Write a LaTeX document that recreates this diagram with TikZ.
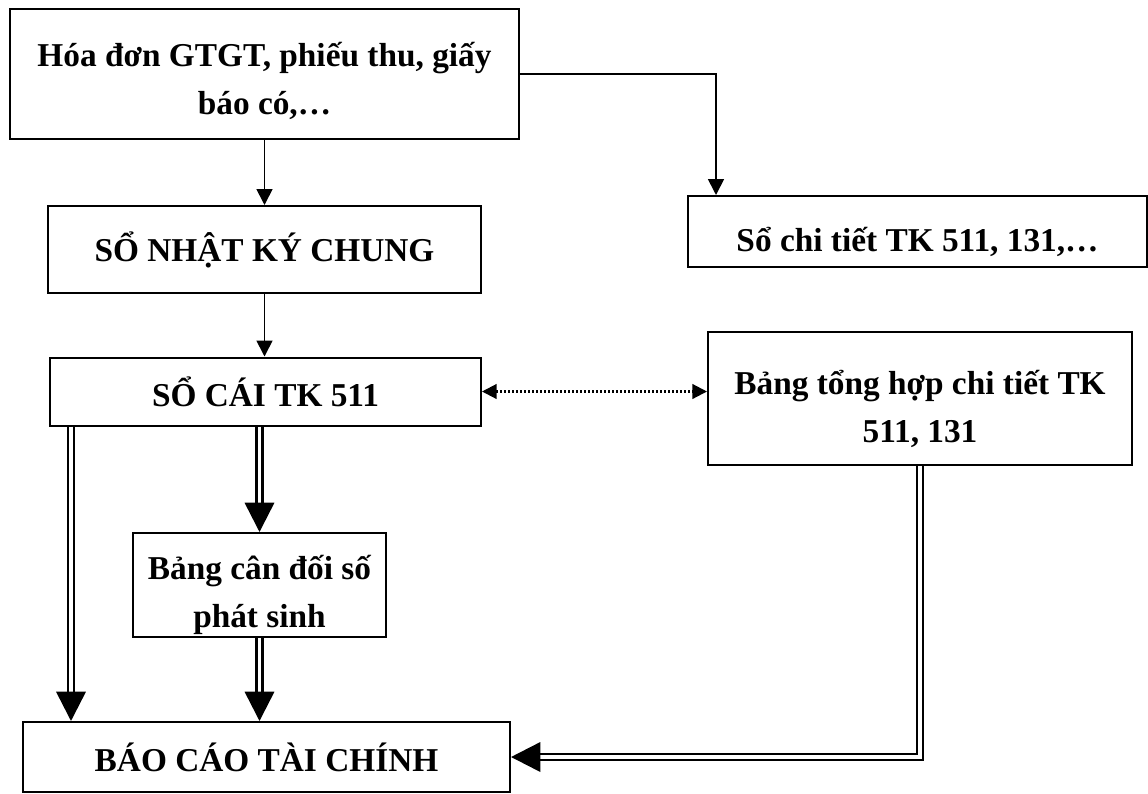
\documentclass[tikz,border=0pt]{standalone}
\usepackage{fontspec}
\setmainfont{Liberation Serif}
\usetikzlibrary{arrows.meta,calc}

\tikzset{
  box/.style={draw, line width=1.5pt, align=center, inner sep=0pt,
    font=\bfseries\fontsize{25}{36}\selectfont},
  arr/.style={line width=1.3pt, -{Triangle[width=12pt,length=12pt]}},
  dbl/.style={double, line width=1.9pt, double distance=2.3pt,
    -{Triangle[width=22pt,length=22pt]}},
  dotarr/.style={dash pattern=on 1.5pt off 1.5pt, line width=1.6pt,
    {Triangle[width=11pt,length=11pt]}-{Triangle[width=11pt,length=11pt]}}
}

\begin{document}
\begin{tikzpicture}[x=0.75pt,y=-0.75pt]
    \useasboundingbox (0,0) rectangle (1148,793);
    % Hop
    \node[box, minimum width=381.75pt, minimum height=97.5pt,
        text height=60pt, text depth=0pt] (src) at (264.5,74)
        {Hóa đơn GTGT, phiếu thu, giấy\\báo có,…};
    \node[box, minimum width=324.75pt, minimum height=65.25pt] (nkc) at (264.5,249.5)
        {SỔ NHẬT KÝ CHUNG};
    \node[box, minimum width=323.25pt, minimum height=51pt] (socai) at (265.5,391.5)
        {SỔ CÁI TK 511};
    \node[box, minimum width=189.75pt, minimum height=78pt,
        text height=63pt, text depth=0pt] (cdps) at (259.5,585)
        {Bảng cân đối số\\phát sinh};
    \node[box, minimum width=365.25pt, minimum height=52.5pt] (bctc) at (266.5,757)
        {BÁO CÁO TÀI CHÍNH};
    \node[box, minimum width=344.25pt, minimum height=53.25pt,
        text height=30pt, text depth=0pt] (ct) at (917.5,231.5)
        {Sổ chi tiết TK 511, 131,…};
    \node[box, minimum width=318pt, minimum height=99.75pt,
        text height=65.25pt, text depth=0pt] (th) at (920,398.5)
        {Bảng tổng hợp chi tiết TK\\511, 131};
    % Frecce
    \draw[arr] (src) -- (nkc);
    \draw[arr] (nkc.south) -- (nkc.south |- socai.north);
    \draw[arr] (src.east) -| ($(ct.north west)+(29,0)$);
    \draw[dotarr] (socai.east) -- (socai.east -| th.west);
    % Doppie
    \path (socai.south west) ++(22,0) coordinate (sx);
    \draw[dbl] (sx) -- (sx |- bctc.north);
    \draw[dbl] (cdps.north |- socai.south) -- (cdps.north);
    \draw[dbl] (cdps.south) -- (cdps.south |- bctc.north);
    \draw[dbl] (th.south) |- (bctc.east);
\end{tikzpicture}
\end{document}
